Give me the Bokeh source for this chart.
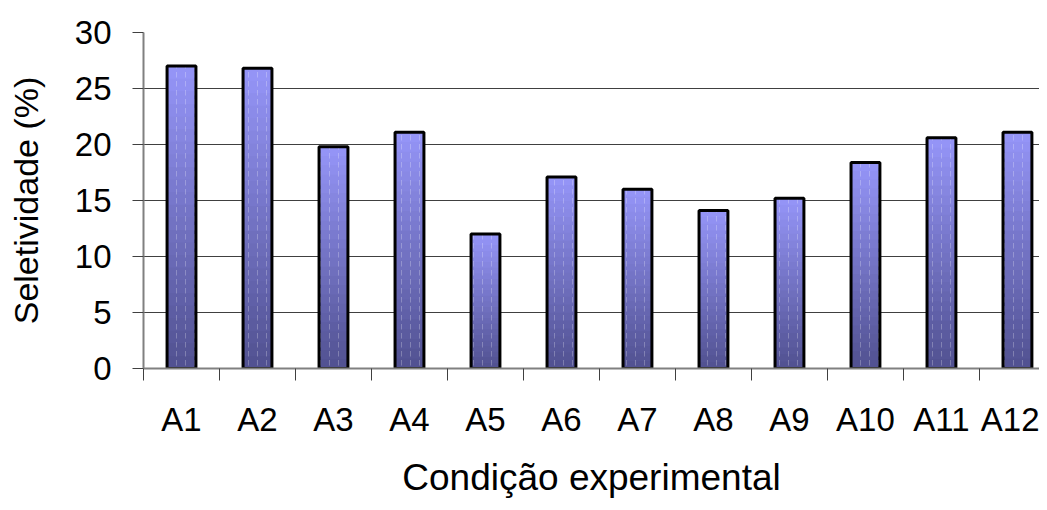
from bokeh.plotting import figure
from bokeh.models import Range1d, FixedTicker, ColumnDataSource
from bokeh.embed import file_html
from bokeh.resources import INLINE

categories = ["A1", "A2", "A3", "A4", "A5", "A6", "A7", "A8", "A9", "A10", "A11", "A12"]
selectivity = [27.0, 26.8, 19.8, 21.1, 12.0, 17.1, 16.0, 14.1, 15.2, 18.4, 20.6, 21.1]
y_ticks = [0, 5, 10, 15, 20, 25, 30]

FONT = "Liberation Sans"

centers = [i + 0.5 for i in range(len(categories))]
bounds = list(range(len(categories) + 1))

p = figure(width=1039, height=502, output_backend="svg", toolbar_location=None,
           x_range=Range1d(0, 11.79), y_range=Range1d(0, 30),
           min_border_left=143, min_border_top=32, min_border_bottom=134,
           min_border_right=0)
p.outline_line_color = None
p.background_fill_color = "white"
p.border_fill_color = "white"

def lerp(c1, c2, t):
    return "#%02x%02x%02x" % tuple(int(round(a + (b - a) * t)) for a, b in zip(c1, c2))

light = (0x94, 0x94, 0xf6)
dark = (0x52, 0x52, 0x92)
N = 24
bw = 0.38
for k in range(N):
    frac = 1 - k / N
    src = ColumnDataSource(dict(x=centers, top=[v * frac for v in selectivity]))
    p.vbar(x="x", top="top", bottom=0, width=bw, source=src,
           fill_color=lerp(light, dark, k / (N - 1)), line_color=None)

src = ColumnDataSource(dict(x=centers, top=selectivity))
p.vbar(x="x", top="top", bottom=0, width=bw, source=src,
       fill_color=None, line_color="black", line_width=3,
       hatch_pattern="vertical_dash", hatch_color="white", hatch_alpha=0.25,
       hatch_scale=9, hatch_weight=1)

p.xgrid.grid_line_color = None
p.ygrid.grid_line_color = "#404040"
p.ygrid.grid_line_width = 1

p.yaxis.ticker = FixedTicker(ticks=y_ticks)
p.yaxis.axis_line_color = "#808080"
p.yaxis.axis_line_width = 2
p.yaxis.major_tick_line_color = "#404040"
p.yaxis.major_tick_out = 11
p.yaxis.major_tick_in = 0
p.yaxis.minor_tick_line_color = None
p.yaxis.major_label_text_font = FONT
p.yaxis.major_label_text_font_size = "33px"
p.yaxis.major_label_text_color = "black"
p.yaxis.major_label_standoff = 21
p.yaxis.axis_label = "Seletividade (%)"
p.yaxis.axis_label_text_font = FONT
p.yaxis.axis_label_text_font_size = "34px"
p.yaxis.axis_label_text_font_style = "normal"
p.yaxis.axis_label_text_color = "black"
p.yaxis.axis_label_standoff = 27

p.xaxis.ticker = FixedTicker(ticks=centers, minor_ticks=bounds)
p.xaxis.major_label_overrides = {c: n for c, n in zip(centers, categories)}
p.xaxis.axis_line_color = "#808080"
p.xaxis.axis_line_width = 2
p.xaxis.major_tick_line_color = None
p.xaxis.minor_tick_line_color = "#404040"
p.xaxis.minor_tick_out = 12
p.xaxis.minor_tick_in = 0
p.xaxis.major_label_text_font = FONT
p.xaxis.major_label_text_font_size = "33px"
p.xaxis.major_label_text_color = "black"
p.xaxis.major_label_standoff = 20
p.xaxis.axis_label = "Condição experimental"
p.xaxis.axis_label_text_font = FONT
p.xaxis.axis_label_text_font_size = "37px"
p.xaxis.axis_label_text_font_style = "normal"
p.xaxis.axis_label_text_color = "black"
p.xaxis.axis_label_standoff = 16

open("out.html", "w").write(file_html(p, INLINE))
